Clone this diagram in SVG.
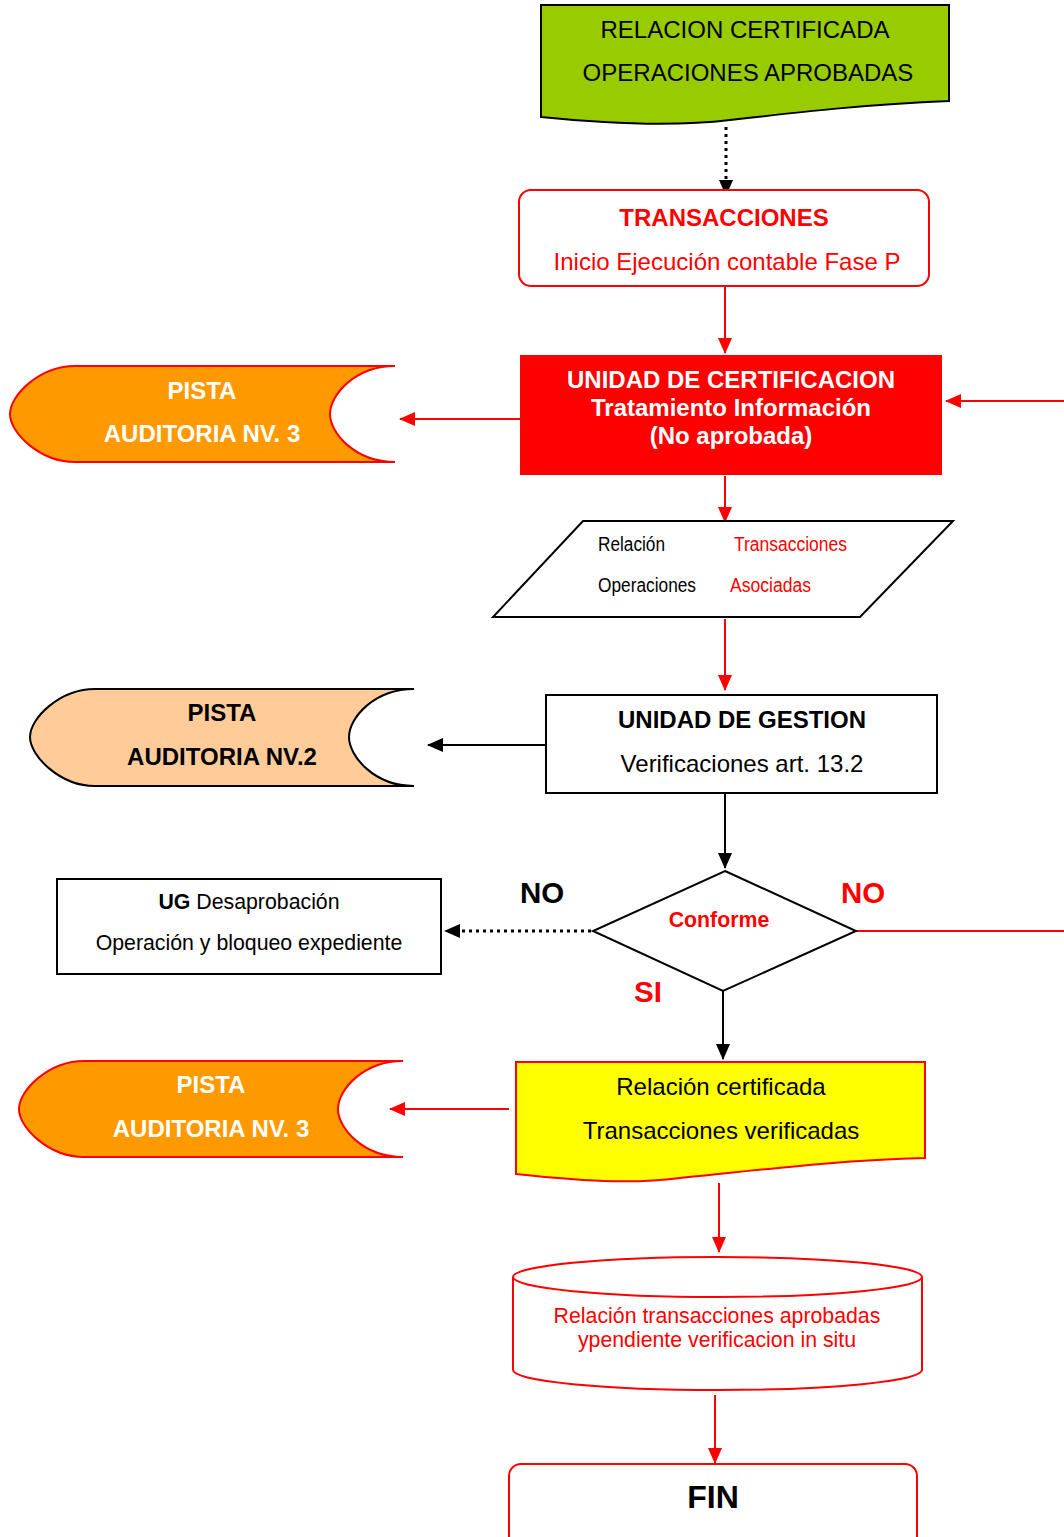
<svg xmlns="http://www.w3.org/2000/svg" width="1064" height="1537" viewBox="0 0 1064 1537">
<defs>
<style>
text{font-family:"Liberation Sans",Arial,sans-serif;}
.b{font-weight:bold;}
.red{fill:#FF0000;}
.blk{fill:#000;}
.wht{fill:#fff;}
.cr{stroke:#FF0000;stroke-width:2;fill:none;}
.ck{stroke:#000;stroke-width:2;fill:none;}
.dot{stroke:#000;stroke-width:3;fill:none;stroke-dasharray:3 4;}
</style>
<marker id="ar" markerUnits="userSpaceOnUse" markerWidth="16" markerHeight="14" refX="15" refY="7" orient="auto"><path d="M0,0 L16,7 L0,14 Z" fill="#FF0000"/></marker>
<marker id="ak" markerUnits="userSpaceOnUse" markerWidth="16" markerHeight="14" refX="15" refY="7" orient="auto"><path d="M0,0 L16,7 L0,14 Z" fill="#000"/></marker>
</defs>
<rect width="1064" height="1537" fill="#fff"/>

<g id="connectors">
<path class="dot" d="M726,127 V195" marker-end="url(#ak)"/>
<path class="cr" d="M725,286 V353" marker-end="url(#ar)"/>
<path class="cr" d="M1064,401 H946" marker-end="url(#ar)"/>
<path class="cr" d="M520,419 H400" marker-end="url(#ar)"/>
<path class="cr" d="M725,476 V522" marker-end="url(#ar)"/>
<path class="cr" d="M725,619 V690" marker-end="url(#ar)"/>
<path class="ck" d="M546,745 H428" marker-end="url(#ak)"/>
<path class="ck" d="M725,794 V868" marker-end="url(#ak)"/>
<path class="dot" d="M591,931 H445" marker-end="url(#ak)"/>
<path class="cr" d="M856,931 H1064"/>
<path class="ck" d="M723,991 V1059" marker-end="url(#ak)"/>
<path class="cr" d="M509,1109 H390" marker-end="url(#ar)"/>
<path class="cr" d="M719,1183 V1252" marker-end="url(#ar)"/>
<path class="cr" d="M715,1395 V1463" marker-end="url(#ar)"/>
</g>

<g id="n_relacion">
<path d="M541,5 H949 V101 C870,104 800,112 730,120 C680,126 620,125 541,117 Z" fill="#99CC00" stroke="#000" stroke-width="2"/>
<text x="745" y="38" font-size="24" text-anchor="middle" class="blk">RELACION CERTIFICADA</text>
<text x="748" y="81" font-size="24" text-anchor="middle" class="blk">OPERACIONES APROBADAS</text>
</g>

<g id="n_transacciones">
<rect x="519" y="190" width="410" height="96" rx="12" fill="#fff" stroke="#FF0000" stroke-width="2"/>
<text x="724" y="226" font-size="24" text-anchor="middle" class="b red">TRANSACCIONES</text>
<text x="727" y="270" font-size="24" text-anchor="middle" class="red">Inicio Ejecución contable Fase P</text>
</g>

<g id="n_certificacion">
<rect x="520" y="355" width="422" height="120" fill="#FF0000"/>
<text x="731" y="388" font-size="24" text-anchor="middle" class="b wht">UNIDAD DE CERTIFICACION</text>
<text x="731" y="416" font-size="24" text-anchor="middle" class="b wht">Tratamiento Información</text>
<text x="731" y="444" font-size="24" text-anchor="middle" class="b wht">(No aprobada)</text>
</g>

<g id="n_pista1">
<path d="M395,366 H75 C40,366 10,395 10,414 C10,433 40,462 75,462 H395 C355,462 330,433 330,414 C330,395 355,366 395,366 Z" fill="#FF9900" stroke="#FF0000" stroke-width="2"/>
<text x="202" y="399" font-size="24" text-anchor="middle" class="b wht">PISTA</text>
<text x="202" y="442" font-size="24" text-anchor="middle" class="b wht">AUDITORIA NV. 3</text>
</g>

<g id="n_paralelo">
<path d="M583,521 H953 L860,617 H493 Z" fill="#fff" stroke="#000" stroke-width="2"/>
<text x="598" y="551" font-size="20" textLength="67" lengthAdjust="spacingAndGlyphs" class="blk">Relación</text>
<text x="734" y="551" font-size="20" textLength="113" lengthAdjust="spacingAndGlyphs" class="red">Transacciones</text>
<text x="598" y="592" font-size="20" textLength="98" lengthAdjust="spacingAndGlyphs" class="blk">Operaciones</text>
<text x="730" y="592" font-size="20" textLength="81" lengthAdjust="spacingAndGlyphs" class="red">Asociadas</text>
</g>

<g id="n_gestion">
<rect x="546" y="695" width="391" height="98" fill="#fff" stroke="#000" stroke-width="2"/>
<text x="742" y="728" font-size="24" text-anchor="middle" class="b blk">UNIDAD DE GESTION</text>
<text x="742" y="772" font-size="24" text-anchor="middle" class="blk">Verificaciones art. 13.2</text>
</g>

<g id="n_pista2">
<path d="M414,689 H95 C60,689 30,718 30,737 C30,756 60,786 95,786 H414 C374,786 349,756 349,737 C349,718 374,689 414,689 Z" fill="#FFCC99" stroke="#000" stroke-width="2"/>
<text x="222" y="721" font-size="24" text-anchor="middle" class="b blk">PISTA</text>
<text x="222" y="765" font-size="24" text-anchor="middle" class="b blk">AUDITORIA NV.2</text>
</g>

<g id="n_conforme">
<path d="M725,871 L856,931 L723,991 L593,931 Z" fill="#fff" stroke="#000" stroke-width="2"/>
<text x="719" y="927" font-size="21.3" text-anchor="middle" class="b red">Conforme</text>
</g>

<g id="labels">
<text x="542" y="903" font-size="29.5" text-anchor="middle" class="b blk">NO</text>
<text x="863" y="903" font-size="29.5" text-anchor="middle" class="b red">NO</text>
<text x="648" y="1002" font-size="29.5" text-anchor="middle" class="b red">SI</text>
</g>

<g id="n_ug">
<rect x="57" y="879" width="384" height="95" fill="#fff" stroke="#000" stroke-width="2"/>
<text x="249" y="909" font-size="21.3" text-anchor="middle" class="blk"><tspan class="b">UG</tspan> Desaprobación</text>
<text x="249" y="950" font-size="21.3" text-anchor="middle" class="blk">Operación y bloqueo expediente</text>
</g>

<g id="n_relacion_cert">
<path d="M516,1062 H925 V1158 C840,1160 760,1170 680,1178 C640,1183 600,1183 516,1174 Z" fill="#FFFF00" stroke="#FF0000" stroke-width="2"/>
<text x="721" y="1095" font-size="24" text-anchor="middle" class="blk">Relación certificada</text>
<text x="721" y="1139" font-size="24" text-anchor="middle" class="blk">Transacciones verificadas</text>
</g>

<g id="n_pista3">
<path d="M403,1061 H84 C49,1061 19,1090 19,1109 C19,1128 49,1157 84,1157 H403 C363,1157 338,1128 338,1109 C338,1090 363,1061 403,1061 Z" fill="#FF9900" stroke="#FF0000" stroke-width="2"/>
<text x="211" y="1093" font-size="24" text-anchor="middle" class="b wht">PISTA</text>
<text x="211" y="1137" font-size="24" text-anchor="middle" class="b wht">AUDITORIA NV. 3</text>
</g>

<g id="n_cilindro">
<path d="M513,1277 V1370 A204.5,20 0 0 0 922,1370 V1277" fill="#fff" stroke="#FF0000" stroke-width="2"/>
<ellipse cx="717.5" cy="1277" rx="204.5" ry="20" fill="#fff" stroke="#FF0000" stroke-width="2"/>
<text x="717" y="1323" font-size="21.3" text-anchor="middle" class="red">Relación transacciones aprobadas</text>
<text x="717" y="1347" font-size="21.3" text-anchor="middle" class="red">ypendiente verificacion in situ</text>
</g>

<g id="n_fin">
<rect x="509" y="1464" width="408" height="100" rx="12" fill="#fff" stroke="#FF0000" stroke-width="2"/>
<text x="713" y="1508" font-size="32" text-anchor="middle" class="b blk">FIN</text>
</g>
</svg>
